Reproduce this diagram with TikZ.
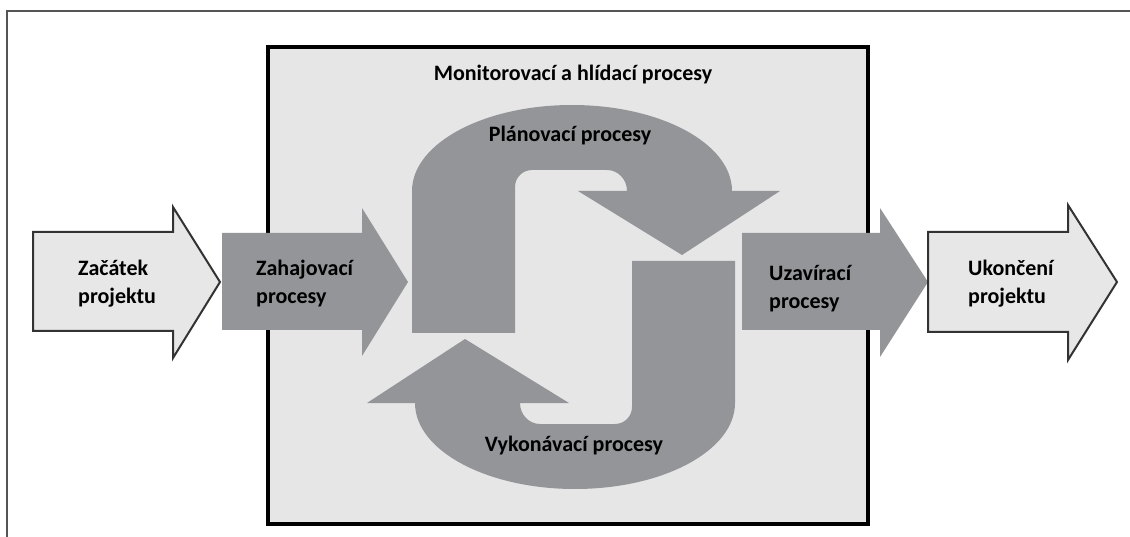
\documentclass[tikz,border=0pt]{standalone}
\usepackage{fontspec}
\setmainfont{Carlito}
\definecolor{procgray}{RGB}{148,149,153}
\definecolor{panel}{RGB}{230,230,230}
\definecolor{lightarrow}{RGB}{231,231,231}
\definecolor{frameline}{RGB}{85,85,85}
\begin{document}
\begin{tikzpicture}[x=1pt,y=-1pt,
  procfill/.style={fill=procgray,draw=none},
  endarrow/.style={fill=lightarrow,draw=black!80,line width=2pt,line join=miter},
  lbl/.style={font=\fontsize{22}{28}\selectfont\bfseries,inner sep=0pt,align=left},
  clbl/.style={font=\fontsize{22}{28}\selectfont\bfseries,inner sep=0pt}]
  % page area
  \useasboundingbox (0,0) rectangle (1130,537);
  \fill[white] (0,0) rectangle (1130,537);
  % outer frame (only top and left edges lie on the page)
  \coordinate (fbl) at (7,545);
  \coordinate (ftl) at (7,11);
  \coordinate (ftr) at (1140,11);
  \draw[frameline,line width=2pt] (fbl) -- (ftl) -- (ftr);
  % monitoring panel
  \draw[fill=panel,line width=3.5pt] (268,47) rectangle (868,524);
  \node[clbl] (mon) at (573,75) {Monitorovací a hlídací procesy};
  % planning loop (upper curved arrow)
  \path[procfill] (412,333) -- (412,191)
    arc[start angle=180,end angle=360,x radius=160,y radius=86]
    -- (780,191) -- (682,255) -- (578,191) -- (627,191)
    arc[start angle=0,end angle=-90,x radius=20,y radius=21]
    -- (532,170)
    arc[start angle=-90,end angle=-180,radius=17]
    -- (515,333) -- cycle;
  % executing loop (same shape turned half a turn)
  \begin{scope}[rotate around={180:(573.5,297)}]
    \path[procfill] (412,333) -- (412,191)
      arc[start angle=180,end angle=360,x radius=160,y radius=86]
      -- (780,191) -- (682,255) -- (578,191) -- (627,191)
      arc[start angle=0,end angle=-90,x radius=20,y radius=21]
      -- (532,170)
      arc[start angle=-90,end angle=-180,radius=17]
      -- (515,333) -- cycle;
  \end{scope}
  \node[clbl] (plan) at (570,136) {Plánovací procesy};
  \node[clbl] (exec) at (574,446) {Vykonávací procesy};
  % initiating and closing block arrows
  \path[procfill] (222,233) -- (362,233) -- (362,208) -- (408,282)
    -- (362,356) -- (362,330) -- (222,330) -- cycle;
  \path[procfill] (742,233) -- (880,233) -- (880,208) -- (928,282)
    -- (880,357) -- (880,330) -- (742,330) -- cycle;
  % project start and end arrows
  \draw[endarrow] (33,232) -- (173,232) -- (173,207) -- (220,282)
    -- (173,358) -- (173,331) -- (33,331) -- cycle;
  \draw[endarrow] (928,232) -- (1068,232) -- (1068,205) -- (1117,282)
    -- (1068,360) -- (1068,332) -- (928,332) -- cycle;
  % labels
  \node[lbl,anchor=west] (start) at (78,284) {Začátek\\projektu};
  \node[lbl,anchor=west] (init) at (256,284) {Zahajovací\\procesy};
  \node[lbl,anchor=west] (close) at (769,289) {Uzavírací\\procesy};
  \node[lbl,anchor=west] (finish) at (968,284) {Ukončení\\projektu};
\end{tikzpicture}
\end{document}
